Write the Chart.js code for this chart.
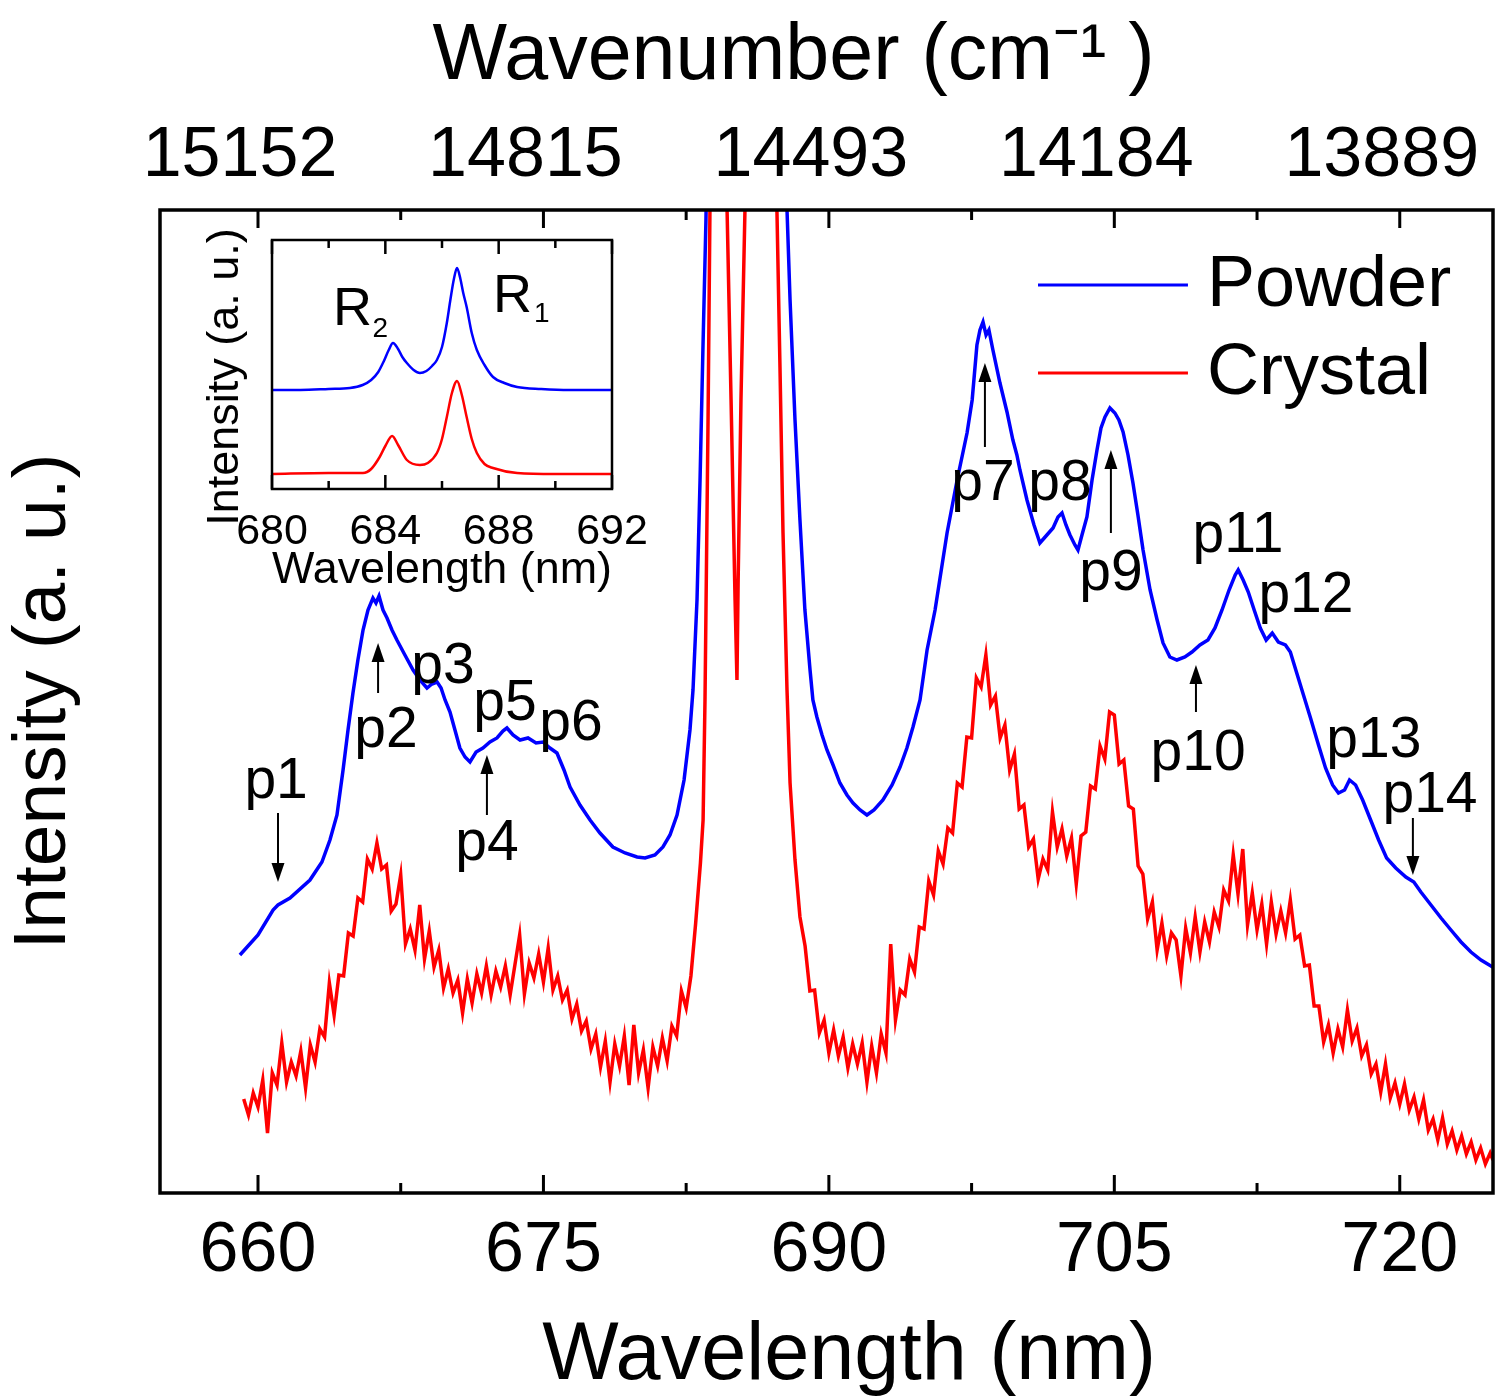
<!DOCTYPE html>
<html>
<head>
<meta charset="utf-8">
<script src="https://cdn.jsdelivr.net/npm/chart.js@4.4.1/dist/chart.umd.min.js"></script>
<style>
html,body{margin:0;padding:0;background:#fff;}
#wrap{position:relative;width:1495px;height:1399px;overflow:hidden;background:#fff;}
#main{position:absolute;left:0;top:0;}
#inset{position:absolute;left:190px;top:222px;}
</style>
</head>
<body>
<div id="wrap">
<canvas id="main" width="1495" height="1399"></canvas>
<canvas id="inset" width="475" height="380"></canvas>
</div>
<script>
// ---------------- DATA ----------------
const majorTicks = [660, 675, 690, 705, 720];
const minorTicks = [667.5, 682.5, 697.5, 712.5];
const bottomTickLabels = ['660', '675', '690', '705', '720'];
const topTickLabels = ['15152', '14815', '14493', '14184', '13889'];

const powderWavelength = [
659.05,660.00,660.79,661.05,661.68,662.73,663.36,663.78,664.15,664.47,
664.73,664.99,665.25,665.52,665.78,666.04,666.20,666.36,666.57,666.78,
667.04,667.30,667.72,668.15,668.51,668.88,669.14,669.41,669.62,669.83,
670.09,670.35,670.61,670.88,671.14,671.46,671.82,672.19,672.56,672.87,
673.08,673.40,673.77,674.19,674.61,674.98,675.34,675.71,676.08,676.40,
676.92,677.45,677.97,678.65,679.29,679.92,680.34,680.86,681.28,681.65,
682.02,682.39,682.70,682.86,683.07,683.23,683.38,683.54,683.80,684.20,
685.20,686.50,687.40,687.80,687.96,688.22,688.48,688.74,689.01,689.16,
689.37,689.64,689.90,690.22,690.58,690.95,691.27,691.64,692.00,692.37,
692.84,693.32,693.74,694.10,694.42,694.79,695.16,695.58,696.21,696.74,
697.26,697.53,697.78,697.94,698.10,698.26,698.41,698.62,698.99,699.36,
699.67,699.88,700.04,700.41,700.78,701.09,701.41,701.78,702.04,702.25,
702.46,702.67,702.93,703.09,703.30,703.56,703.83,704.09,704.30,704.51,
704.77,705.03,705.24,705.46,705.72,705.98,706.24,706.51,706.88,707.25,
707.56,707.92,708.29,708.71,709.08,709.50,709.92,710.29,710.66,711.03,
711.35,711.51,711.77,712.04,712.35,712.67,712.98,713.30,713.62,713.99,
714.25,714.57,714.94,715.31,715.73,716.10,716.47,716.78,717.10,717.36,
717.68,718.05,718.47,718.89,719.31,719.79,720.32,720.74,721.11,721.64,
722.17,722.69,723.22,723.74,724.27,724.96
];
const powderIntensity = [
23.8,25.8,28.3,28.8,29.5,31.3,33.1,35.3,37.8,42.3,
46.3,50.0,53.3,56.3,58.3,59.5,59.0,59.7,58.3,57.5,
56.3,55.3,53.8,52.3,51.3,50.5,50.9,51.1,50.5,49.3,
48.1,46.3,44.5,43.6,43.1,44.1,44.5,45.1,45.5,46.2,
46.5,45.8,45.3,45.5,45.0,45.1,44.5,44.0,42.3,40.6,
38.8,37.3,36.0,34.6,34.0,33.6,33.5,33.8,34.6,35.8,
37.8,41.3,46.3,50.3,59.3,71.3,84.3,97.3,130,250,
200,450,160,98.3,89.3,77.3,67.3,58.3,52.3,49.3,
47.6,45.8,44.3,42.8,41.0,39.8,39.0,38.3,37.8,38.3,
39.3,40.8,42.6,44.5,46.6,49.3,54.3,58.3,66.0,71.3,
76.0,79.3,84.8,86.3,87.1,85.8,86.3,84.3,81.0,78.1,
75.3,73.8,72.3,69.3,66.8,65.0,65.7,66.5,67.6,68.0,
66.8,65.8,64.8,64.3,65.8,67.6,71.3,74.3,76.5,77.6,
78.5,78.0,77.3,76.1,73.8,71.0,67.8,64.3,60.3,57.3,
55.0,53.6,53.3,53.6,54.1,54.8,55.3,56.5,58.3,60.3,
61.8,62.3,61.3,60.1,58.3,56.5,55.3,56.0,55.1,54.8,
54.1,52.1,49.8,47.5,44.8,42.5,40.8,40.0,40.3,41.3,
40.8,39.3,37.3,35.3,33.5,32.5,31.6,31.1,30.1,28.8,
27.5,26.3,25.1,24.1,23.3,22.5
];

const crystalWavelength = [
659.25,659.5,659.75,660,660.25,660.5,660.75,661,661.25,661.5,
661.75,662,662.25,662.5,662.75,663,663.25,663.5,663.75,664,
664.25,664.5,664.75,665,665.25,665.5,665.75,666,666.25,666.5,
666.75,667,667.25,667.5,667.75,668,668.25,668.5,668.75,669,
669.25,669.5,669.75,670,670.25,670.5,670.75,671,671.25,671.5,
671.75,672,672.25,672.5,672.75,673,673.25,673.5,673.75,674,
674.25,674.5,674.75,675,675.25,675.5,675.75,676,676.25,676.5,
676.75,677,677.25,677.5,677.75,678,678.25,678.5,678.75,679,
679.25,679.5,679.75,680,680.25,680.5,680.75,681,681.25,681.5,
681.75,682,682.25,682.5,682.75,683,
683.25,683.39,683.49,683.65,683.75,683.9,684.2,684.4,684.65,684.86,
685.07,685.17,685.23,685.38,685.59,685.9,686.5,687.0,687.27,687.43,
687.59,687.8,687.96,688.22,688.48,
688.75,689,689.25,689.5,689.75,690,690.25,690.5,690.75,691,
691.25,691.5,691.75,692,692.25,692.5,692.75,693,693.25,693.5,
693.75,694,694.25,694.5,694.75,695,695.25,695.5,695.75,696,
696.25,696.5,696.75,697,697.25,697.5,697.75,698,698.25,698.5,
698.75,699,699.25,699.5,699.75,700,700.25,700.5,700.75,701,
701.25,701.5,701.75,702,702.25,702.5,702.75,703,703.25,703.5,
703.75,704,704.25,704.5,704.75,705,705.25,705.5,705.75,706,
706.25,706.5,706.75,707,707.25,707.5,707.75,708,708.25,708.5,
708.75,709,709.25,709.5,709.75,710,710.25,710.5,710.75,711,
711.25,711.5,711.75,712,712.25,712.5,712.75,713,713.25,713.5,
713.75,714,714.25,714.5,714.75,715,715.25,715.5,715.75,716,
716.25,716.5,716.75,717,717.25,717.5,717.75,718,718.25,718.5,
718.75,719,719.25,719.5,719.75,720,720.25,720.5,720.75,721,
721.25,721.5,721.75,722,722.25,722.5,722.75,723,723.25,723.5,
723.75,724,724.25,724.5,724.75,724.9
];
const crystalIntensity = [
9.4,7.8,10.0,8.6,11.3,6.0,12.0,10.8,15.0,11.1,
13.1,11.7,14.2,10.5,14.8,13.1,16.4,15.6,21.0,17.8,
21.8,21.7,26.0,25.7,29.5,29.1,33.4,32.4,35.0,32.4,
32.8,28.2,28.9,31.8,24.9,26.4,24.3,28.8,23.4,26.2,
22.6,24.3,20.5,22.4,20.0,21.3,18.0,21.4,19.0,21.9,
20.0,22.7,19.8,22.2,20.6,22.7,19.8,22.8,25.8,19.9,
23.0,21.5,23.9,21.1,24.5,20.3,21.7,19.3,20.3,17.4,
18.9,16.2,17.2,14.4,15.9,12.6,15.2,11.1,14.9,12.7,
15.7,10.8,16.8,12.0,14.3,10.5,14.6,12.7,15.5,13.2,
16.7,15.7,20.2,18.5,21.7,27.0,
33.0,37.3,49.3,77.3,98.3,150,220,180,98.3,79.3,
59.3,51.3,61.0,79.3,98.3,200,420,180,98.3,82.6,
66.0,50.3,41.0,33.3,27.6,
24.7,20.2,20.3,16.0,17.3,14.0,16.3,13.7,15.6,12.5,
14.9,12.9,15.0,11.1,14.7,12.0,15.9,14.0,24.9,17.3,
20.3,19.8,23.4,22.1,26.6,26.4,31.2,29.8,34.2,32.9,
36.5,36.0,41.0,40.6,45.6,45.5,51.5,50.6,53.8,48.8,
49.7,45.5,46.8,42.3,43.9,38.4,38.8,34.6,35.4,31.4,
33.4,32.3,38.1,34.6,36.4,33.7,35.5,30.9,35.7,36.1,
40.7,40.4,44.7,43.4,48.1,47.8,42.9,43.3,38.7,38.4,
32.7,31.9,27.4,29.1,24.3,27.0,23.7,26.0,25.3,21.7,
26.5,24.0,27.6,24.1,27.1,25.1,28.1,26.6,30.3,29.2,
33.8,29.9,34.4,26.8,30.0,26.3,28.9,24.9,29.1,25.9,
28.2,26.0,29.3,25.4,25.8,22.7,22.8,18.7,18.7,15.1,
16.8,14.0,16.4,14.6,18.3,15.2,16.5,13.7,14.8,11.9,
12.9,10.1,12.9,9.5,11.0,8.9,10.9,8.3,9.6,7.4,
9.3,6.3,7.4,5.3,7.5,4.9,6.2,4.3,5.7,3.9,
5.1,3.3,4.5,2.9,4.0,3.3
];

// peak annotations (label anchor: wavelength, intensity of baseline)
const peakLabels   = ['p1','p2','p3','p4','p5','p6','p7','p8','p9','p10','p11','p12','p13','p14'];
const peakLabelWl  = [660.95,666.73,669.72,672.03,672.98,676.45,698.10,702.14,704.82,709.40,711.50,715.07,718.64,721.59];
const peakLabelInt = [39.5,44.6,51.0,33.3,47.3,45.3,69.3,69.3,60.3,42.3,64.1,58.1,43.6,38.1];
// arrows: wavelength, tail intensity, tip intensity
const arrowWl   = [661.05,666.31,672.03,698.20,704.82,709.29,720.69];
const arrowTail = [38.0,50.0,37.8,74.6,66.0,48.1,37.5];
const arrowTip  = [31.1,55.0,43.8,83.0,74.3,52.8,31.8];

// inset data
const insetTicks = [680, 684, 688, 692];
const insetMinorTicks = [682, 686, 690];
const insetPowderWl = [680.0,681.0,682.0,682.75,683.2,683.5,683.75,683.95,684.12,684.27,684.45,684.6,684.76,685.0,685.22,685.45,685.65,685.82,686.0,686.17,686.3,686.42,686.53,686.65,686.75,686.87,687.05,687.23,687.5,687.8,688.2,688.65,689.5,690.5,692.0];
const insetPowderInt = [9.9,9.9,10.0,10.1,10.4,10.9,11.7,12.8,13.9,14.6,14.0,13.2,12.6,11.9,11.6,11.8,12.3,12.9,14.2,16.6,19.0,21.0,22.1,21.0,19.6,18.2,15.6,13.9,12.4,11.2,10.6,10.2,10.0,9.9,9.9];
const insetCrystalWl = [680.0,682.0,683.21,683.5,683.8,684.0,684.24,684.45,684.76,685.22,685.5,685.82,686.0,686.17,686.35,686.53,686.7,686.87,687.05,687.23,687.5,687.8,688.65,690.0,692.0];
const insetCrystalInt = [1.5,1.6,1.6,2.0,3.2,4.3,5.3,4.4,2.9,2.4,2.6,3.6,5.0,7.2,9.6,10.8,9.4,7.2,5.0,3.6,2.5,2.1,1.6,1.5,1.5];
const insetPeakMain = ['R','R'];
const insetPeakSub  = ['2','1'];
const insetLabelWl  = [682.15, 687.80];
const insetLabelInt = [16.4, 17.7];
const insetSubWl    = [683.55, 689.25];
const insetSubInt   = [15.2, 16.7];

// ---------------- STYLE / RENDER ----------------
const FONT = "'Liberation Sans', Arial, Helvetica, sans-serif";
Chart.defaults.font.family = FONT;
Chart.defaults.color = '#000';
const BLUE = '#0000ff', RED = '#ff0000';

const toPoints = (xs, ys) => xs.map((x, i) => ({x: x, y: ys[i]}));
const noSidePad = s => { s.paddingLeft = 0; s.paddingRight = 0; };

const mainDecor = {
  id: 'mainDecor',
  afterDatasetsDraw(chart) {
    const {ctx, chartArea: a} = chart;
    const xs = chart.scales.x, ys = chart.scales.y;
    ctx.save();
    ctx.strokeStyle = '#000'; ctx.fillStyle = '#000';
    ctx.lineWidth = 3;
    const tick = (v, len) => {
      const px = xs.getPixelForValue(v);
      ctx.beginPath();
      ctx.moveTo(px, a.bottom); ctx.lineTo(px, a.bottom - len);
      ctx.moveTo(px, a.top); ctx.lineTo(px, a.top + len);
      ctx.stroke();
    };
    majorTicks.forEach(v => tick(v, 18));
    minorTicks.forEach(v => tick(v, 10));
    ctx.lineWidth = 3.5;
    ctx.strokeRect(a.left, a.top, a.right - a.left, a.bottom - a.top);

    // arrows
    ctx.lineWidth = 2;
    arrowWl.forEach((w, i) => {
      const px = xs.getPixelForValue(w);
      const y0 = ys.getPixelForValue(arrowTail[i]);
      const y1 = ys.getPixelForValue(arrowTip[i]);
      const dir = y0 > y1 ? 1 : -1;
      const head = 19;
      ctx.beginPath(); ctx.moveTo(px, y0); ctx.lineTo(px, y1 + dir * head * 0.7); ctx.stroke();
      ctx.beginPath(); ctx.moveTo(px, y1);
      ctx.lineTo(px - 6.5, y1 + dir * head); ctx.lineTo(px + 6.5, y1 + dir * head);
      ctx.closePath(); ctx.fill();
    });

    // peak labels
    ctx.font = '57px ' + FONT;
    ctx.textAlign = 'center'; ctx.textBaseline = 'alphabetic';
    peakLabels.forEach((t, i) => {
      ctx.fillText(t, xs.getPixelForValue(peakLabelWl[i]), ys.getPixelForValue(peakLabelInt[i]));
    });

    // legend (inside plot)
    const legendRows = [90.8, 82.0];
    const lx0 = xs.getPixelForValue(700.99), lx1 = xs.getPixelForValue(708.87);
    const tx = xs.getPixelForValue(709.87);
    ctx.font = '72px ' + FONT;
    ctx.textAlign = 'left'; ctx.textBaseline = 'middle';
    chart.data.datasets.forEach((ds, i) => {
      const y = ys.getPixelForValue(legendRows[i]);
      ctx.strokeStyle = ds.borderColor; ctx.lineWidth = 3;
      ctx.beginPath(); ctx.moveTo(lx0, y); ctx.lineTo(lx1, y); ctx.stroke();
      ctx.fillStyle = '#000';
      ctx.fillText(ds.label, tx, y + 1);
    });
    ctx.restore();
  }
};

new Chart(document.getElementById('main'), {
  type: 'line',
  data: {
    datasets: [
      {label: 'Powder', data: toPoints(powderWavelength, powderIntensity), borderColor: BLUE, borderWidth: 3.5, pointRadius: 0, tension: 0, fill: false},
      {label: 'Crystal', data: toPoints(crystalWavelength, crystalIntensity), borderColor: RED, borderWidth: 3.5, pointRadius: 0, tension: 0, fill: false}
    ]
  },
  options: {
    responsive: false, animation: false, devicePixelRatio: 1,
    layout: {padding: {left: 0, right: 2, top: 0, bottom: 0}},
    plugins: {legend: {display: false}, tooltip: {enabled: false}},
    scales: {
      x: {
        type: 'linear', position: 'bottom', min: 654.85, max: 724.9,
        grid: {display: false}, border: {display: false},
        afterBuildTicks: s => { s.ticks = majorTicks.map(v => ({value: v})); },
        afterFit: s => { s.height = 206; noSidePad(s); },
        ticks: {font: {size: 70, lineHeight: 1}, color: '#000', padding: 16, maxRotation: 0, autoSkip: false,
                callback: (v, i) => bottomTickLabels[i]},
        title: {display: true, text: '  Wavelength (nm)', color: '#000', font: {size: 81, lineHeight: 1}, padding: {top: 0, bottom: 2}}
      },
      x2: {
        type: 'linear', position: 'top', min: 654.85, max: 724.9,
        grid: {display: false}, border: {display: false},
        afterBuildTicks: s => { s.ticks = majorTicks.map(v => ({value: v})); },
        afterFit: s => { s.height = 210; noSidePad(s); },
        ticks: {font: {size: 70, lineHeight: 1}, color: '#000', padding: 10, maxRotation: 0, autoSkip: false, labelOffset: -18,
                callback: (v, i) => topTickLabels[i]},
        title: {display: true, text: 'Wavenumber (cm\u207B\u00B9 )   ', color: '#000', font: {size: 79, lineHeight: 1}, padding: {top: 18, bottom: 0}}
      },
      y: {
        type: 'linear', position: 'left', min: 0, max: 98.3,
        grid: {display: false}, border: {display: false},
        ticks: {display: false},
        afterFit: s => { s.width = 160; },
        title: {display: true, text: 'Intensity (a. u.)', color: '#000', font: {size: 75, lineHeight: 1}, padding: {top: 7, bottom: 0}}
      }
    }
  },
  plugins: [mainDecor]
});

// ---------------- INSET ----------------
const insetDecor = {
  id: 'insetDecor',
  afterDatasetsDraw(chart) {
    const {ctx, chartArea: a} = chart;
    const xs = chart.scales.x, ys = chart.scales.y;
    ctx.save();
    ctx.strokeStyle = '#000'; ctx.fillStyle = '#000';
    ctx.lineWidth = 2.5;
    const tick = (v, len) => {
      const px = xs.getPixelForValue(v);
      ctx.beginPath();
      ctx.moveTo(px, a.bottom); ctx.lineTo(px, a.bottom - len);
      ctx.moveTo(px, a.top); ctx.lineTo(px, a.top + len);
      ctx.stroke();
    };
    insetTicks.forEach(v => tick(v, 14));
    insetMinorTicks.forEach(v => tick(v, 8));
    ctx.strokeRect(a.left, a.top, a.right - a.left, a.bottom - a.top);
    ctx.textAlign = 'left'; ctx.textBaseline = 'alphabetic';
    insetPeakMain.forEach((t, i) => {
      ctx.font = '54px ' + FONT;
      ctx.fillText(t, xs.getPixelForValue(insetLabelWl[i]), ys.getPixelForValue(insetLabelInt[i]));
      ctx.font = '28px ' + FONT;
      ctx.fillText(insetPeakSub[i], xs.getPixelForValue(insetSubWl[i]), ys.getPixelForValue(insetSubInt[i]));
    });
    ctx.restore();
  }
};

new Chart(document.getElementById('inset'), {
  type: 'line',
  data: {
    datasets: [
      {label: 'Powder', data: toPoints(insetPowderWl, insetPowderInt), borderColor: BLUE, borderWidth: 2.5, pointRadius: 0, cubicInterpolationMode: 'monotone', fill: false},
      {label: 'Crystal', data: toPoints(insetCrystalWl, insetCrystalInt), borderColor: RED, borderWidth: 2.5, pointRadius: 0, cubicInterpolationMode: 'monotone', fill: false}
    ]
  },
  options: {
    responsive: false, animation: false, devicePixelRatio: 1,
    layout: {padding: {left: 0, right: 53, top: 18, bottom: 0}},
    plugins: {legend: {display: false}, tooltip: {enabled: false}},
    scales: {
      x: {
        type: 'linear', position: 'bottom', min: 680, max: 692,
        grid: {display: false}, border: {display: false},
        afterBuildTicks: s => { s.ticks = insetTicks.map(v => ({value: v})); },
        afterFit: s => { s.height = 113; noSidePad(s); },
        ticks: {font: {size: 43, lineHeight: 1}, color: '#000', padding: 14, maxRotation: 0, autoSkip: false,
                callback: (v, i) => String(insetTicks[i])},
        title: {display: true, text: 'Wavelength (nm)', color: '#000', font: {size: 45, lineHeight: 1}, padding: {top: 0, bottom: 9}}
      },
      y: {
        type: 'linear', position: 'left', min: 0, max: 24.9,
        grid: {display: false}, border: {display: false},
        ticks: {display: false},
        afterFit: s => { s.width = 82; },
        title: {display: true, text: 'Intensity (a. u.)  ', color: '#000', font: {size: 45, lineHeight: 1}, padding: {top: 13, bottom: 0}}
      }
    }
  },
  plugins: [insetDecor]
});
</script>
</body>
</html>
